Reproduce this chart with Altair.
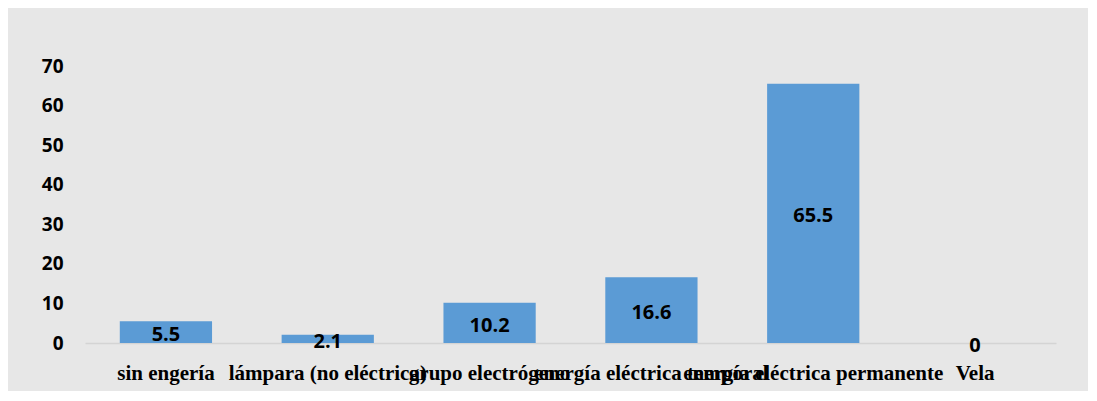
import altair as alt
import pandas as pd

categories = ["sin engería", "lámpara (no eléctrica)", "grupo electrógeno",
              "energía eléctrica temporal", "energía eléctrica permanente", "Vela"]
values = [5.5, 2.1, 10.2, 16.6, 65.5, 0]
y_ticks = [0, 10, 20, 30, 40, 50, 60, 70]

df = pd.DataFrame({"cat": categories, "val": values})

x = alt.X("cat:N", sort=None, title=None,
          scale=alt.Scale(paddingInner=0.43, paddingOuter=0.215))
y_axis = alt.Axis(values=y_ticks, tickCount=8, labelOverlap=False)
y = alt.Y("val:Q", title=None,
          scale=alt.Scale(domain=[0, 70], nice=False), axis=y_axis)

bars = alt.Chart(df).mark_bar(color="#5b9bd5").encode(x=x, y=y)

labels = alt.Chart(df).transform_calculate(mid="datum.val/2").mark_text(
    font="Open Sans", fontWeight="bold", fontSize=20, color="black",
    baseline="middle", dy=3
).encode(
    x=alt.X("cat:N", sort=None, title=None),
    y=alt.Y("mid:Q", title=None, axis=y_axis),
    text=alt.Text("val:Q"),
)

chart = (bars + labels).properties(
    width=971, height=277,
    autosize=alt.AutoSizeParams(type="none"),
    padding={"left": 77, "top": 58, "right": 32, "bottom": 48},
    background="#e7e7e7"
).configure_view(stroke=None).configure_axisX(
    labelAngle=0, labelLimit=0, labelOverlap=False,
    labelFont="Liberation Serif", labelFontWeight="bold",
    labelFontSize=21, labelColor="black", labelPadding=19,
    ticks=False, domain=True, domainColor="#d4d4d4", domainWidth=1.5,
    grid=False
).configure_axisY(
    grid=False, ticks=False, domain=False, labelOverlap=False,
    labelFont="Open Sans", labelFontWeight="bold", labelFontSize=19,
    labelColor="black", labelPadding=22
)

chart.save("out.html", embed_options={"renderer": "svg", "actions": False})
